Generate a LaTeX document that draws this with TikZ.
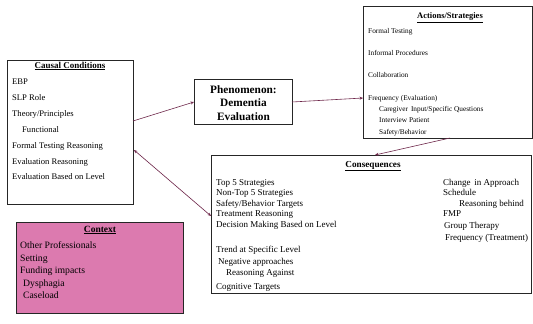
\documentclass[tikz,border=0pt]{standalone}
\usepackage{fontspec}
\setmainfont{Liberation Serif}
\usetikzlibrary{arrows.meta}
\definecolor{linkc}{RGB}{110,40,75}
\definecolor{ctxfill}{RGB}{220,122,175}
\tikzset{
  box/.style={draw=black!85, line width=0.9pt},
  txt/.style={anchor=base west, inner sep=0pt},
  ttl/.style={anchor=base, inner sep=0pt},
  ccf/.style={font=\fontsize{8.6}{10}\selectfont},
  asf/.style={font=\fontsize{7.3}{9}\selectfont},
  cqf/.style={font=\fontsize{9}{10}\selectfont},
  cxf/.style={font=\fontsize{9.7}{11}\selectfont},
  link/.style={draw=linkc, line width=0.6pt, -{Stealth[length=3.5pt,width=3pt]}},
  blink/.style={draw=linkc, line width=0.6pt, {Stealth[length=3.5pt,width=3pt]}-{Stealth[length=3.5pt,width=3pt]}}
}
\begin{document}
\begin{tikzpicture}[x=1pt,y=-1pt]
\useasboundingbox (0,0) rectangle (533,324);
% boxes
\node[box, minimum width=126pt, minimum height=144pt, anchor=north west, inner sep=0pt] (cc) at (7,60) {};
\node[box, minimum width=98pt, minimum height=45pt, anchor=north west, inner sep=0pt] (ph) at (194,79) {};
\node[box, minimum width=169pt, minimum height=132pt, anchor=north west, inner sep=0pt] (as) at (363,6) {};
\node[box, minimum width=320pt, minimum height=138pt, anchor=north west, inner sep=0pt] (cq) at (211,155) {};
\node[box, fill=ctxfill, minimum width=167pt, minimum height=91pt, anchor=north west, inner sep=0pt] (cx) at (16,222) {};
% causal conditions
\node[ttl, font=\fontsize{9}{10}\selectfont\bfseries] (cct) at (70,68) {\underline{Causal Conditions}};
\node[txt, ccf] (c1) at (12,84) {EBP};
\node[txt, ccf] (c2) at (12,100) {SLP Role};
\node[txt, ccf] (c3) at (12,116) {Theory/Principles};
\node[txt, ccf] (c4) at (22,132) {Functional};
\node[txt, ccf] (c5) at (12,148) {Formal Testing Reasoning};
\node[txt, ccf] (c6) at (12,164) {Evaluation Reasoning};
\node[txt, ccf] (c7) at (12,179) {Evaluation Based on Level};
% phenomenon
\node[anchor=center, align=center, inner sep=0pt, font=\fontsize{11.3}{13.5}\selectfont\bfseries] (pht) at ([yshift=-1pt]ph.center) {Phenomenon:\\Dementia\\Evaluation};
% actions
\node[ttl, font=\fontsize{8.5}{10}\selectfont\bfseries] (ast) at (450,19) {\underline{Actions/Strategies}};
\node[txt, asf] (a1) at (368,33) {Formal Testing};
\node[txt, asf] (a2) at (368,55) {Informal Procedures};
\node[txt, asf] (a3) at (368,77) {Collaboration};
\node[txt, asf] (a4) at (368,100) {Frequency (Evaluation)};
\node[txt, asf] (a5) at (379,111) {Caregiver\, Input/Specific Questions};
\node[txt, asf] (a6) at (379,122) {Interview Patient};
\node[txt, asf] (a7) at (379,134) {Safety/Behavior};
% consequences
\node[ttl, font=\fontsize{9.2}{10}\selectfont\bfseries] (cqt) at (373,167) {\underline{Consequences}};
\node[txt, cqf] (q1) at (216,185) {Top 5 Strategies};
\node[txt, cqf] (q2) at (216,195.5) {Non-Top 5 Strategies};
\node[txt, cqf] (q3) at (216,206) {Safety/Behavior Targets};
\node[txt, cqf] (q4) at (216,216.5) {Treatment Reasoning};
\node[txt, cqf] (q5) at (216,227) {Decision Making Based on Level};
\node[txt, cqf] (q6) at (216,252) {Trend at Specific Level};
\node[txt, cqf] (q7) at (218,264) {Negative approaches};
\node[txt, cqf] (q8) at (226,275.5) {Reasoning Against};
\node[txt, cqf] (q9) at (216,289) {Cognitive Targets};
\node[txt, cqf] (r1) at (443,185) {Change\, in Approach};
\node[txt, cqf] (r2) at (443,195.5) {Schedule};
\node[txt, cqf] (r3) at (459,206) {Reasoning behind};
\node[txt, cqf] (r4) at (443,216.5) {FMP};
\node[txt, cqf] (r5) at (444,228) {Group Therapy};
\node[txt, cqf] (r6) at (445,240) {Frequency (Treatment)};
% context
\node[ttl, font=\fontsize{9.5}{11}\selectfont\bfseries] (cxt) at (100,232) {\underline{Context}};
\node[txt, cxf] (x1) at (20,248.5) {Other Professionals};
\node[txt, cxf] (x2) at (20,261) {Setting};
\node[txt, cxf] (x3) at (20,273.5) {Funding impacts};
\node[txt, cxf] (x4) at (23,286) {Dysphagia};
\node[txt, cxf] (x5) at (23,298.5) {Caseload};
% connectors
\coordinate (p1) at (133,121);
\coordinate (p2) at (194,102);
\coordinate (p3) at (292,102);
\coordinate (p4) at (363,98);
\coordinate (p5) at (450,138);
\coordinate (p6) at (375,155);
\coordinate (p7) at (134,150);
\coordinate (p8) at (211,216);
\draw[link] (p1) -- (p2);
\draw[link] (p3) -- (p4);
\draw[link] (p5) -- (p6);
\draw[blink] (p7) -- (p8);
\end{tikzpicture}
\end{document}
